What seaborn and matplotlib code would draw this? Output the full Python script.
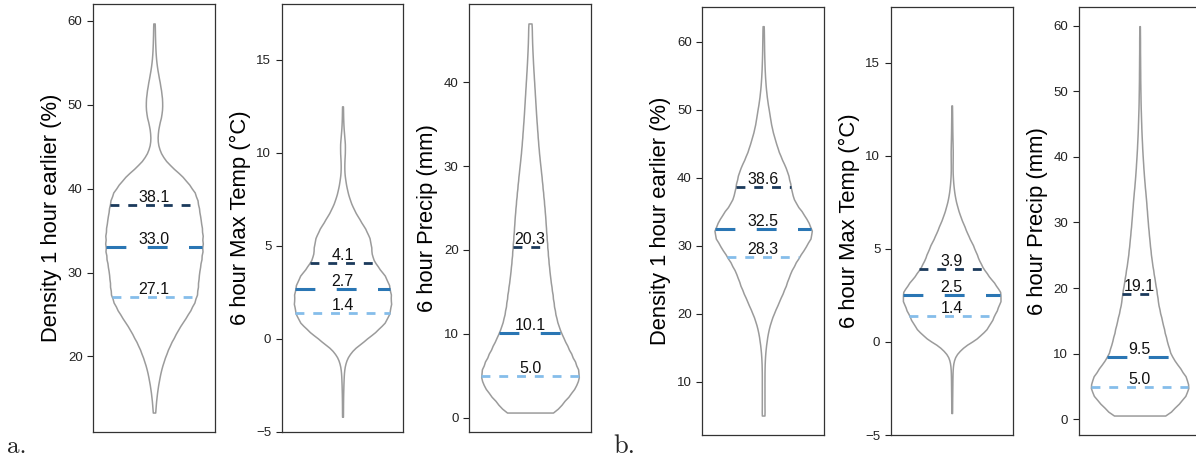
import numpy as np
import matplotlib
matplotlib.use("Agg")
import matplotlib.pyplot as plt
import seaborn as sns

# ---------------------------------------------------------------------------
# Distribution profiles: relative violin half-width at evenly spaced levels
# between the observed minimum and maximum of each variable.
# ---------------------------------------------------------------------------

# Group a
a_density_range = (13.3, 59.7)
a_density_width = [1.3, 1.8, 2.7, 3.8, 5.3, 7, 9.5, 12.5, 16, 20.5,
                   25, 30.7, 36, 40.5, 43.3, 44, 44.7, 45.8, 47.3, 48.5,
                   48.7, 48.7, 47.8, 46.5, 45.2, 43.8, 41.2, 35, 28, 18,
                   10, 5.5, 3.5, 3.7, 5, 7.3, 8.3, 8.2, 7.2, 5.8,
                   4.2, 2.8, 1.9, 1.4, 1.1, 0.9, 0.8]
a_density_quartiles = [27.1, 33.0, 38.1]

a_temp_range = (-4.18, 12.5)
a_temp_width = [0.5, 0.5, 0.6, 0.8, 1.1, 1.6, 3.5, 9, 21, 33,
                43, 47.5, 49, 48.7, 47, 43, 35, 29.5, 29, 27.5,
                23, 17, 11.5, 7.5, 4.8, 3, 1.8, 1.8, 2.4, 2.5,
                1.6, 0.9, 0.6, 0.5]
a_temp_quartiles = [1.4, 2.7, 4.1]

a_precip_range = (0.6, 47.0)
a_precip_width = [25, 31, 38.5, 44.5, 48, 47.5, 44, 40, 36, 32,
                  28.5, 26, 24.3, 23, 22, 20.8, 19.7, 18.8, 18, 17.3,
                  16.7, 16.1, 15.5, 15, 14.3, 13.6, 12.8, 12, 11.2, 10.3,
                  9.4, 8.6, 7.9, 7.3, 6.7, 6.1, 5.6, 5.1, 4.6, 4.1,
                  3.6, 3.1, 2.7, 2.3, 2, 1.8, 1.7]
a_precip_quartiles = [5.0, 10.1, 20.3]

# Group b
b_density_range = (5.0, 62.3)
b_density_width = [1.5, 1.3, 1.3, 1.3, 1.3, 1.3, 1.3, 1.4, 1.6, 2,
                   2.6, 3.5, 4.5, 6, 8, 10.5, 13.5, 16.3, 19.3, 22,
                   24.3, 26.8, 30.3, 34, 38.5, 42.5, 46.5, 47.8, 45, 41.5,
                   37, 32, 29, 27.5, 26.3, 24.8, 22.8, 19.8, 16.8, 14.3,
                   12.3, 10.3, 8.6, 7.3, 6.3, 5.2, 4.1, 3.3, 2.6, 2.1,
                   1.7, 1.4, 1.2, 1.0, 0.9, 0.8, 0.7, 0.6]
b_density_quartiles = [28.3, 32.5, 38.6]

b_temp_range = (-3.82, 12.7)
b_temp_width = [0.4, 0.4, 0.5, 0.6, 0.7, 1.0, 2.5, 9.5, 24, 33,
                38, 42, 46, 46, 39.5, 32.5, 27, 23.5, 20, 15.5,
                12, 8.3, 5.5, 3.3, 2, 1.2, 0.8, 0.9, 1.0, 0.8,
                0.6, 0.5, 0.4, 0.3]
b_temp_quartiles = [1.4, 2.5, 3.9]

b_precip_range = (0.6, 59.9)
b_precip_width = [28, 32.5, 39.5, 44.5, 47.5, 47, 44.5, 40, 35.5, 31,
                  28.8, 27, 25.3, 23.8, 22.3, 20.8, 19.3, 18, 17.2, 16.3,
                  15.2, 14.2, 13.2, 12.2, 11.3, 10.6, 9.9, 9.3, 8.7, 8.1,
                  7.6, 7.1, 6.6, 6.1, 5.5, 4.9, 4.4, 3.9, 3.5, 3.1,
                  2.7, 2.4, 2.1, 1.8, 1.6, 1.4, 1.2, 1.0, 0.9, 0.8,
                  0.7, 0.6, 0.6, 0.5, 0.5, 0.4, 0.4, 0.4, 0.3, 0.3]
b_precip_quartiles = [5.0, 9.5, 19.1]

ylabels = ["Density 1 hour earlier (%)", "6 hour Max Temp (\u00b0C)", "6 hour Precip (mm)"]
group_labels = ["a.", "b."]

# ---------------------------------------------------------------------------
sns.set_style("ticks")
plt.rcParams["font.family"] = ["Liberation Sans", "DejaVu Sans"]
plt.rcParams["axes.edgecolor"] = "#333333"
plt.rcParams["axes.linewidth"] = 0.9

W, H = 1196, 459
fig = plt.figure(figsize=(W / 100, H / 100), dpi=100)

# quartile line styling: lower quartile, median, upper quartile
q_colors = ["#85bdea", "#2a76b4", "#1b3a5c"]
q_dashes = [(3.2, 3.2), (6.5, 7.0), (3.2, 3.2)]
q_widths = [2.0, 2.2, 2.0]


def draw_panel(ax, vrange, widths, quartiles, ylabel, ylim=None):
    widths = np.asarray(widths, dtype=float)
    levels = np.linspace(vrange[0], vrange[1], len(widths))
    counts = np.maximum(np.round(widths * 10).astype(int), 1)
    values = np.repeat(levels, counts)
    step = levels[1] - levels[0]
    bw = 0.55 * step / values.std(ddof=1)

    sns.violinplot(y=values, ax=ax, cut=0, inner=None, bw_method=bw,
                   color="white", linecolor="#9b9b9b", linewidth=1.1,
                   saturation=1, width=0.8)

    # half-width of the violin at each quartile, taken from its outline
    verts = ax.collections[0].get_paths()[0].vertices
    right = verts[verts[:, 0] > 0]
    order = np.argsort(right[:, 1])
    ys, xs = right[order, 1], right[order, 0]
    for q, c, d, lw in zip(quartiles, q_colors, q_dashes, q_widths):
        hw = np.interp(q, ys, xs)
        ax.plot([-hw, hw], [q, q], color=c, lw=lw, dashes=d,
                dash_capstyle="butt", zorder=3)
        ax.text(0, q, f"{q:.1f}", ha="center", va="bottom", fontsize=11.5,
                color="#111111", zorder=4)

    ax.set_xlim(-0.5, 0.5)
    if ylim is not None:
        ax.set_ylim(*ylim)
    ax.set_xticks([])
    ax.set_xlabel("")
    ax.set_ylabel(ylabel, fontsize=15.8, color="black")
    ax.tick_params(axis="y", labelsize=9.5, length=4, width=0.8,
                   colors="#222222")
    for sp in ax.spines.values():
        sp.set_visible(True)


def add_axes(left, top, right, bottom):
    return fig.add_axes([left / W, 1 - bottom / H, (right - left) / W,
                         (bottom - top) / H])


panels = [
    ((93.0, 4.0, 215.0, 432.0), a_density_range, a_density_width, a_density_quartiles, ylabels[0], None),
    ((281.7, 4.0, 403.3, 432.0), a_temp_range, a_temp_width, a_temp_quartiles, ylabels[1], (-5, 18)),
    ((469.0, 4.0, 591.0, 432.0), a_precip_range, a_precip_width, a_precip_quartiles, ylabels[2], None),
    ((702.3, 6.7, 824.0, 435.0), b_density_range, b_density_width, b_density_quartiles, ylabels[0], None),
    ((890.7, 6.7, 1012.7, 435.0), b_temp_range, b_temp_width, b_temp_quartiles, ylabels[1], (-5, 18)),
    ((1078.7, 6.7, 1200.5, 435.0), b_precip_range, b_precip_width, b_precip_quartiles, ylabels[2], None),
]

for box, vr, wd, qs, lab, yl in panels:
    ax = add_axes(*box)
    draw_panel(ax, vr, wd, qs, lab, yl)

fig.text(7 / W, 1 - 453 / H, group_labels[0], family="cmr10", fontsize=18,
         va="baseline", ha="left")
fig.text(613 / W, 1 - 453 / H, group_labels[1], family="cmr10", fontsize=19,
         va="baseline", ha="left")

fig.savefig("out.png", dpi=100)
